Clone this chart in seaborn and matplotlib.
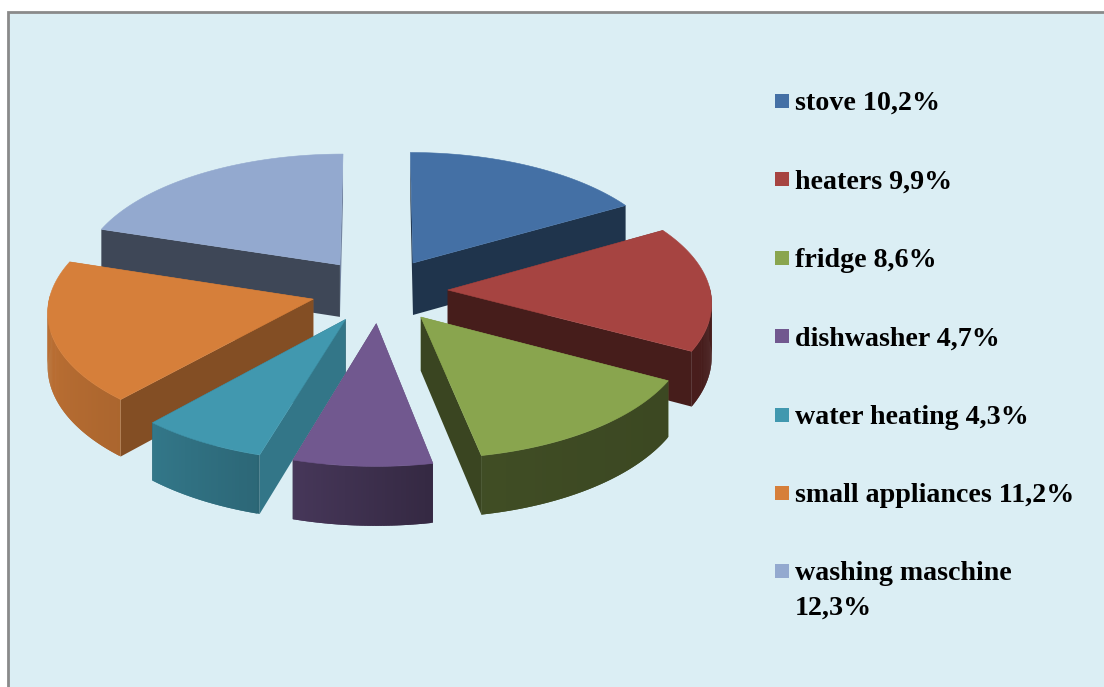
import numpy as np
import matplotlib
matplotlib.use("Agg")
import matplotlib.pyplot as plt
import seaborn as sns

# Energy use per appliance
appliances = ["stove", "heaters", "fridge", "dishwasher", "water heating",
              "small appliances", "washing maschine"]
shares = [10.2, 9.9, 8.6, 4.7, 4.3, 11.2, 12.3]
share_labels = ["10,2%", "9,9%", "8,6%", "4,7%", "4,3%", "11,2%", "12,3%"]
slice_colors = ["#4470A5", "#A64441", "#89A54E", "#71588F", "#4198AF", "#D67F3A", "#93A9CF"]

sns.set_theme(style="white")
plt.rcParams["font.family"] = ["Liberation Serif", "DejaVu Serif"]

W, H = 1104, 687
fig = plt.figure(figsize=(W / 100, H / 100), dpi=100, facecolor="white")
ax = fig.add_axes([0, 0, 1, 1])
ax.set_xlim(0, W)
ax.set_ylim(H, 0)
ax.axis("off")

# Chart area with its grey frame along the top and left
ax.fill([8.0, W + 5, W + 5, 8.0], [11.5, 11.5, H + 5, H + 5], facecolor="#DBEEF4",
        edgecolor="#8A8A8A", linewidth=2.0, zorder=0)

# Projection of the pie plane onto the page
CX, CY = 379.5, 290.5
RX, RY = 262.5, 124.5
PERSPECTIVE = 0.086
EXPLODE = 0.26
DEPTH = 53.0


def project(u, v, drop=0.0):
    s = 1.0 / (1.0 + PERSPECTIVE * np.asarray(v))
    return CX + RX * np.asarray(u) * s, CY - RY * np.asarray(v) * s + drop * s


def mix(color, factor):
    return tuple(c * factor for c in matplotlib.colors.to_rgb(color))


def rim_shade(angle):
    return np.interp(angle, [90, 150, 170, 196, 197, 221, 222, 250, 290],
                     [0.42, 0.45, 0.47, 0.62, 0.68, 0.78, 0.80, 0.86, 0.88])


def side_shade(normal):
    return np.interp(normal, [106, 131, 150, 197, 260], [0.78, 0.62, 0.46, 0.42, 0.42])


palette = sns.color_palette(slice_colors)
fractions = np.array(shares) / np.sum(shares)
edges = np.concatenate([[0.0], np.cumsum(fractions) * 360.0])

# Paint the slices from the far side of the plane to the near side
slices = []
for i, color in enumerate(palette):
    a0, a1 = edges[i], edges[i + 1]
    mid = np.radians((a0 + a1) / 2)
    slices.append((EXPLODE * np.cos(mid), EXPLODE * np.sin(mid), a0, a1, color))
slices.sort(key=lambda item: -item[0])

for ov, ou, a0, a1, color in slices:
    angles = np.linspace(a0, a1, max(int(a1 - a0) * 2, 8))
    ru = ou + np.sin(np.radians(angles))
    rv = ov + np.cos(np.radians(angles))

    def wall(us, vs, shade):
        tx, ty = project(us, vs)
        bx, by = project(us, vs, DEPTH)
        ax.fill(np.r_[tx, bx[::-1]], np.r_[ty, by[::-1]], facecolor=mix(color, shade),
                edgecolor="none", linewidth=0)

    # Radial faces, the one turned away from the viewer first
    faces = [(a0, (a0 - 90) % 360), (a1, (a1 + 90) % 360)]
    faces.sort(key=lambda f: np.cos(np.radians(f[1])), reverse=True)
    for edge, normal in faces:
        wall(np.array([ou, ou + np.sin(np.radians(edge))]),
             np.array([ov, ov + np.cos(np.radians(edge))]),
             side_shade(normal))

    # Outer rim: overlapping facets so the shading runs smoothly along the curve
    for k in range(len(angles) - 1):
        mid_angle = (angles[k] + angles[k + 1]) / 2
        if np.cos(np.radians(mid_angle)) < 0.03:
            wall(ru[k:k + 3], rv[k:k + 3], rim_shade(mid_angle))

    tx, ty = project(np.r_[ou, ru], np.r_[ov, rv])
    ax.fill(tx, ty, facecolor=color, edgecolor=color, linewidth=0.4)

# Legend column
KEY_X, KEY_SIZE, TEXT_X = 775.0, 14.0, 795.0
ROW_TOP, ROW_STEP = 101.0, 78.4
FONT_SIZE = 20.2
for i, (name, label, color) in enumerate(zip(appliances, share_labels, palette)):
    y = ROW_TOP + i * ROW_STEP
    ax.fill([KEY_X, KEY_X + KEY_SIZE, KEY_X + KEY_SIZE, KEY_X],
            [y - KEY_SIZE / 2, y - KEY_SIZE / 2, y + KEY_SIZE / 2, y + KEY_SIZE / 2],
            facecolor=color, edgecolor="none")
    if name == "washing maschine":
        ax.text(TEXT_X, y + 9, name, fontsize=FONT_SIZE, fontweight="bold", color="black")
        ax.text(TEXT_X, y + 43, label, fontsize=FONT_SIZE, fontweight="bold", color="black")
    else:
        ax.text(TEXT_X, y + 9, f"{name} {label}", fontsize=FONT_SIZE, fontweight="bold", color="black")

fig.savefig("out.png", dpi=100, facecolor="white")
